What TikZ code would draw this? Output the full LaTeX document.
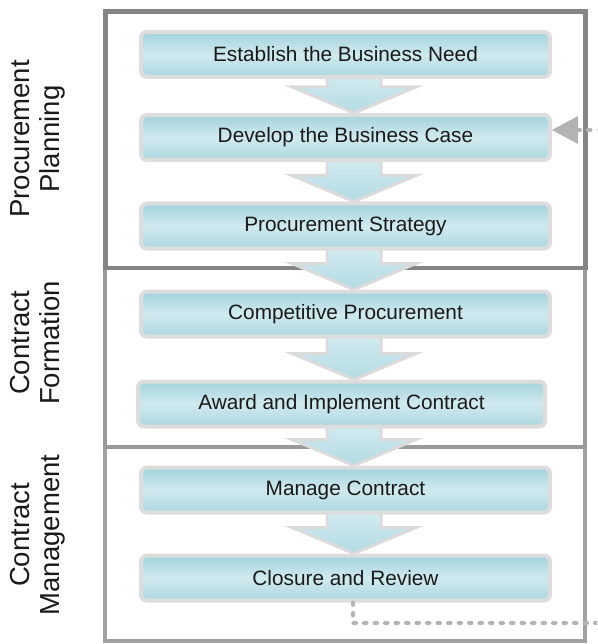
\documentclass[tikz,border=0pt]{standalone}
\usepackage{fontspec}
\setmainfont{Liberation Sans}
\usetikzlibrary{calc,arrows.meta}

\definecolor{boxtop}{HTML}{A3D3DC}
\definecolor{boxmid}{HTML}{D0EAEF}
\definecolor{boxbot}{HTML}{ABD7DF}
\definecolor{boxedge}{HTML}{DDDDDD}
\definecolor{chevtop}{HTML}{D2EBF0}
\definecolor{chevbot}{HTML}{B3DBE3}
\definecolor{chevedge}{HTML}{DBDBDB}
\definecolor{frameA}{HTML}{858585}
\definecolor{frameB}{HTML}{9A9A9A}
\definecolor{frameC}{HTML}{A2A2A2}
\definecolor{loopgray}{HTML}{B3B3B3}
\definecolor{ink}{HTML}{1A1A1A}

\pgfdeclarelayer{back}
\pgfsetlayers{back,main}

% downward chevron between two stacked steps, centred on the spine
\newcommand\flowchevron[2]{%
  \path[chevronshape]
    ($(spine |- #1.south)+(-27,-3)$) --
    ($(spine |- #2.north)+(-27,-26)$) --
    ($(spine |- #2.north)+(-62,-26)$) --
    (spine |- #2.north) --
    ($(spine |- #2.north)+(62,-26)$) --
    ($(spine |- #2.north)+(27,-26)$) --
    ($(spine |- #1.south)+(27,-3)$) -- cycle;}

\begin{document}
\begin{tikzpicture}[x=1pt,y=-1pt,
  stepbox/.style={draw=boxedge, line width=4pt, rounded corners=6pt,
    top color=boxtop, bottom color=boxbot, middle color=boxmid,
    minimum width=409pt, minimum height=45pt, inner sep=0pt,
    font=\fontsize{20.8}{24}\selectfont, text=ink},
  chevronshape/.style={draw=chevedge, line width=3pt, line join=miter,
    top color=chevtop, bottom color=chevbot},
  lanebox/.style={line width=4pt},
  lanelabel/.style={rotate=90, align=center, inner sep=0pt, anchor=north,
    font=\fontsize{27.5}{30}\selectfont, text=ink},
  feedback/.style={draw=loopgray, line width=4pt, line cap=round,
    dash pattern=on 2.5pt off 8pt,
    -{Triangle[width=28pt,length=26pt,line width=0pt]}}]

\useasboundingbox (0,0) rectangle (597,644);
\clip (0,0) rectangle (597,644);

% phase labels
\node[lanelabel] (plan) at (10,139) {Procurement\\Planning};
\node[lanelabel] (form) at (10,343) {Contract\\Formation};
\node[lanelabel] (mgmt) at (10,535) {Contract\\Management};

% process steps
\node[stepbox] (need) at (345.5,54.5) {Establish the Business Need};
\node[stepbox] (case) at (345.5,137.5) {Develop the Business Case};
\node[stepbox] (strategy) at (345.5,226) {Procurement Strategy};
\node[stepbox] (compete) at (345.5,314) {Competitive Procurement};
\node[stepbox, minimum width=407pt] (award) at (341.5,404) {Award and Implement Contract};
\node[stepbox] (manage) at (345.5,490) {Manage Contract};
\node[stepbox] (closure) at (345.5,578) {Closure and Review};

\coordinate (spine) at (354,0);

\begin{pgfonlayer}{back}
  % phase frames
  \draw[lanebox, draw=frameC] (105,447) rectangle (585,641);
  \draw[lanebox, draw=frameB] (105,268) rectangle (585,447);
  \draw[lanebox, draw=frameA, line width=4.5pt] (105.5,11.5) rectangle (585.5,268);
  % step-to-step chevrons
  \flowchevron{need}{case}
  \flowchevron{case}{strategy}
  \flowchevron{strategy}{compete}
  \flowchevron{compete}{award}
  \flowchevron{award}{manage}
  \flowchevron{manage}{closure}
\end{pgfonlayer}

% review feeds back into the business case
\coordinate (fbturn) at (353,623);
\coordinate (fbfar) at (614,623);
\coordinate (fbtop) at (614,130);
\draw[feedback] (fbturn |- closure.south) -- (fbturn) -- (fbfar) -- (fbtop) -- (case.east |- fbtop);

\end{tikzpicture}
\end{document}
